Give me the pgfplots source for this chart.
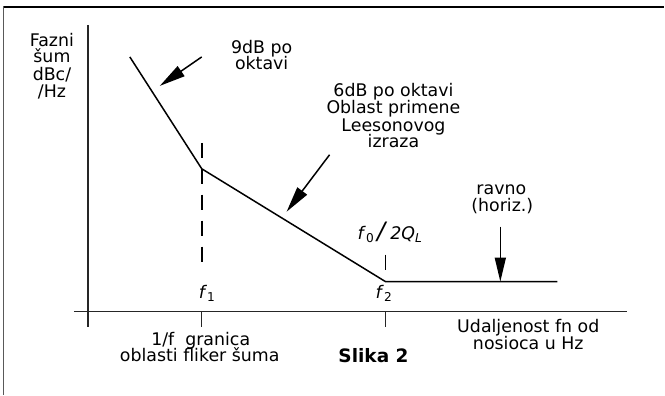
\documentclass[border=0pt]{standalone}
\usepackage{fontspec}
\setmainfont{DejaVu Sans}
\usepackage{pgfplots}
\pgfplotsset{compat=1.18}
\usetikzlibrary{arrows.meta}
\tikzset{lbl/.style={font=\fontsize{17.4bp}{17bp}\selectfont, inner sep=0pt, anchor=base}}

\begin{document}
\begin{tikzpicture}
\begin{axis}[
  width=665bp, height=396bp, scale only axis,
  xmin=0, xmax=665, ymin=0, ymax=396,
  hide axis, clip=false,
  every axis plot/.append style={no marks},
]
% bounding area and frame
\path (axis cs:0,0) rectangle (axis cs:665,396);
\addplot[black, line width=1.8bp] coordinates {(4,389) (665,389)};
\addplot[black!65, line width=1bp] coordinates {(4,389.9) (4,0)};

% axes of the schematic
\addplot[black!85, line width=1.5bp] coordinates {(88,371) (88,69)};
\addplot[black!85, line width=1.5bp] coordinates {(74,84) (628,84)};
\addplot[black!85, line width=1.4bp] coordinates {(202,84) (202,69)};
\addplot[black!85, line width=1.4bp] coordinates {(386,84) (386,69)};

% corner frequencies
\addplot[black, line width=1.6bp, dash pattern=on 15bp off 11bp] coordinates {(202,253) (202,126)};
\addplot[black, line width=1.6bp] coordinates {(386,141) (386,126)};

% phase noise asymptotes: 9 dB/oct, 6 dB/oct, flat
\addplot[black, line width=1.5bp] coordinates {(130,339) (202,227) (386,114) (558,114)};

% pointers
\addplot[black, line width=1.5bp, -{Triangle[length=26bp,width=12bp]}] coordinates {(202,339) (160,310)};
\addplot[black, line width=1.5bp, -{Triangle[length=26bp,width=12bp]}] coordinates {(330,241) (287,184)};
\addplot[black, line width=1.5bp, -{Triangle[length=24bp,width=11bp]}] coordinates {(501,169) (501,114)};

% y-axis caption
\node[lbl] at (axis cs:52,349) {Fazni};
\node[lbl] at (axis cs:52,333) {šum};
\node[lbl] at (axis cs:52,315) {dBc/};
\node[lbl] at (axis cs:52,298) {/Hz};

\node[lbl] at (axis cs:262,342) {9dB po};
\node[lbl] at (axis cs:262,326) {oktavi};

\node[lbl] at (axis cs:394,299) {6dB po oktavi};
\node[lbl] at (axis cs:394,282) {Oblast primene};
\node[lbl] at (axis cs:394,264) {Leesonovog};
\node[lbl] at (axis cs:394,248) {izraza};

\node[lbl] at (axis cs:502,201) {ravno};
\node[lbl] at (axis cs:503,184) {(horiz.)};

\node[lbl, anchor=base west] at (axis cs:358,156) {\textit{f}\textsubscript{0}\,{\fontsize{24bp}{24bp}\selectfont\textit{/}}\,\textit{2Q}\textsubscript{\textit{L}}};
\node[lbl, anchor=base west] at (axis cs:199,97) {\textit{f}\textsubscript{1}};
\node[lbl, anchor=base west] at (axis cs:376,97) {\textit{f}\textsubscript{2}};

\node[lbl] at (axis cs:201,50) {1/f\ \ granica};
\node[lbl] at (axis cs:200,34) {oblasti fliker šuma};

\node[lbl] at (axis cs:529,63) {Udaljenost fn od};
\node[lbl] at (axis cs:529,46) {nosioca u Hz};

\node[lbl, font=\fontsize{18.5bp}{18bp}\selectfont\bfseries] at (axis cs:374,33) {Slika 2};
\end{axis}
\end{tikzpicture}
\end{document}
